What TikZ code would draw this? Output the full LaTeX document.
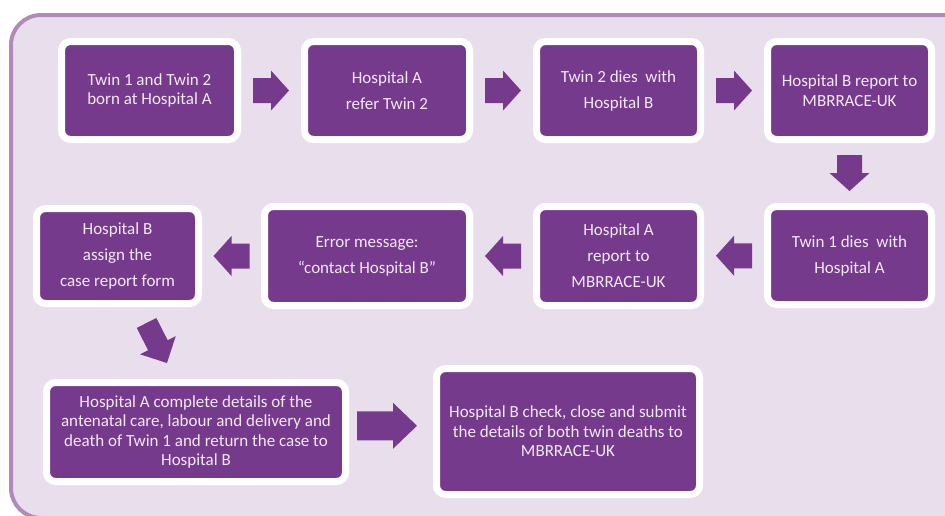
\documentclass[tikz,border=0pt]{standalone}
\usepackage{fontspec}
\setmainfont{Carlito}
\usetikzlibrary{calc}
\definecolor{boxpurple}{HTML}{763A8C}
\definecolor{panelfill}{HTML}{E9DFEC}
\definecolor{panelline}{HTML}{B18ABC}
\definecolor{txt}{HTML}{F2EAF4}
\begin{document}
\begin{tikzpicture}[x=1pt,y=-1pt,
  box/.style={draw=white, line width=7pt, fill=boxpurple, rounded corners=9pt,
    inner sep=0pt, align=center, text=txt, font=\fontsize{17}{19.5}\selectfont},
  wide/.style={font=\fontsize{17}{26}\selectfont},
  pics/barrow/.style={code={\fill[boxpurple] (-18,-12.5) -- (0,-12.5) -- (0,-20) -- (18,0) -- (0,20) -- (0,12.5) -- (-18,12.5) -- cycle;}},
  pics/diagarrow/.style={code={\fill[boxpurple] (-22.5,-11) -- (2.5,-11) -- (2.5,-20) -- (22.5,0) -- (2.5,20) -- (2.5,11) -- (-22.5,11) -- cycle;}},
  pics/bigarrow/.style={code={\fill[boxpurple] (-30,-14.5) -- (6,-14.5) -- (6,-23) -- (30,0) -- (6,23) -- (6,14.5) -- (-30,14.5) -- cycle;}},
]
\useasboundingbox (0,0) rectangle (945,515);
\begin{scope}
  \clip (0,0) rectangle (945,515);
  \draw[panelline, fill=panelfill, line width=4pt, rounded corners=30pt] (11,15) rectangle (1000,518);
\end{scope}

\node[box, minimum width=176pt, minimum height=98pt] (b1) at (149.5,90.5) {Twin 1 and Twin 2\\born at Hospital A};
\node[box, wide, minimum width=165pt, minimum height=98pt] (b2) at (387,90.5) {Hospital A\\refer Twin 2};
\node[box, wide, minimum width=164pt, minimum height=98pt] (b3) at (618.5,90.5) {Twin 2 dies~ with\\Hospital B};
\node[box, minimum width=164pt, minimum height=98pt] (b4) at (849.5,90.5) {Hospital B report to\\MBRRACE-UK};
\node[box, wide, minimum width=164pt, minimum height=98pt] (b5) at (849.5,255.5) {Twin 1 dies~ with\\Hospital A};
\node[box, wide, minimum width=164pt, minimum height=99pt] (b6) at (618.5,256) {Hospital A\\report to\\MBRRACE-UK};
\node[box, wide, minimum width=205pt, minimum height=99pt] (b7) at (367,256) {Error message:\\“contact Hospital B”};
\node[box, wide, minimum width=162pt, minimum height=95pt] (b8) at (117.5,256) {Hospital B\\assign the\\case report form};
\node[box, minimum width=299pt, minimum height=99pt] (b9) at (196,432) {Hospital A complete details of the\\antenatal care, labour and delivery and\\death of Twin 1 and return the case to\\Hospital B};
\node[box, minimum width=263pt, minimum height=126pt] (b10) at (568,431.5) {Hospital B check, close and submit\\the details of both twin deaths to\\MBRRACE-UK};

\pic at ($(b1.east)!0.5!(b2.west)$) {barrow};
\pic at ($(b2.east)!0.5!(b3.west)$) {barrow};
\pic at ($(b3.east)!0.5!(b4.west)$) {barrow};
\pic[rotate=-90] at ($(b4.south)!0.5!(b5.north)$) {barrow};
\pic[rotate=180] at ($(b5.west)!0.5!(b6.east)$) {barrow};
\pic[rotate=180] at ($(b6.west)!0.5!(b7.east)$) {barrow};
\pic[rotate=180] at ($(b7.west)!0.5!(b8.east)$) {barrow};
\pic[rotate=-63] at ($(b8.south)!0.5!(b9.north)$) {diagarrow};
\pic at ($(b9.east)!0.5!(b10.west)+(-4,-6)$) {bigarrow};
\end{tikzpicture}
\end{document}
